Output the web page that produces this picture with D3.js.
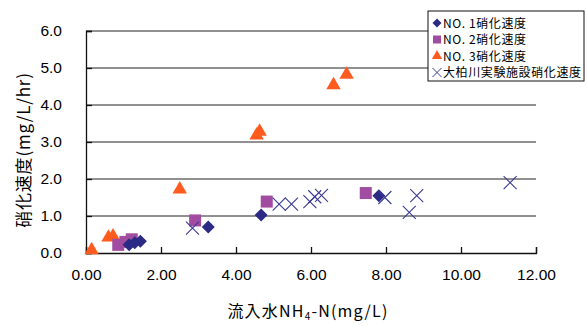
<!DOCTYPE html>
<head>
  <meta charset="utf-8">
  <title>硝化速度</title>
  <style>
    body { margin: 0; background: #fff; }
    text { font-family: "Liberation Sans", Arial, sans-serif; fill: #000; }
    .jp { font-family: "Noto Sans CJK JP", sans-serif; }
  </style>
</head>
<body>
  <script src="https://cdn.jsdelivr.net/npm/d3@7/dist/d3.min.js"></script>
  <script>
    // data: [流入水NH4-N, 硝化速度]
    var no1 = [[1.15, 0.22], [1.3, 0.28], [1.45, 0.32], [3.26, 0.7], [4.67, 1.03], [7.81, 1.55]];
    var no2 = [[0.86, 0.22], [1.05, 0.3], [1.22, 0.37], [2.91, 0.88], [4.82, 1.39], [7.46, 1.62]];
    var no3 = [[0.15, 0.08], [0.6, 0.42], [0.72, 0.45], [2.5, 1.72], [4.55, 3.18], [4.63, 3.28], [6.6, 4.54], [6.95, 4.82]];
    var ogashiwa = [[2.84, 0.67], [5.15, 1.32], [5.48, 1.32], [5.97, 1.39], [6.1, 1.52], [6.28, 1.56],
                    [7.97, 1.5], [8.62, 1.1], [8.82, 1.55], [11.31, 1.9]];
    var xTicks = [0, 2, 4, 6, 8, 10, 12];
    var yTicks = [0, 1, 2, 3, 4, 5, 6];
    var legendLabels = ["NO. 1硝化速度", "NO. 2硝化速度", "NO. 3硝化速度", "大柏川実験施設硝化速度"];

    var margin = {top: 31, left: 86},
        width = 450,
        height = 222;

    var svg = d3.select("body").append("svg")
        .attr("width", 587)
        .attr("height", 326);
    var g = svg.append("g")
        .attr("transform", "translate(" + margin.left + "," + margin.top + ")");

    var xScale = d3.scaleLinear().domain([0, 12]).range([0, width]);
    var yScale = d3.scaleLinear().domain([0, 6]).range([height, 0]);

    // gridlines
    g.selectAll(".grid").data(yTicks.slice(1)).enter().append("line")
      .attr("x1", 0).attr("x2", width)
      .attr("y1", function(d) { return yScale(d); })
      .attr("y2", function(d) { return yScale(d); })
      .attr("stroke", "#222").attr("stroke-width", 1);

    // axes, ticks pointing inward
    var xAxis = d3.axisBottom(xScale).tickValues(xTicks).tickSize(-6).tickPadding(16)
        .tickFormat(d3.format(".2f"));
    var yAxis = d3.axisLeft(yScale).tickValues(yTicks).tickSize(-6).tickPadding(24)
        .tickFormat(d3.format(".1f"));

    var gx = g.append("g").attr("transform", "translate(0," + height + ")").call(xAxis);
    var gy = g.append("g").call(yAxis);
    [gx, gy].forEach(function(a) {
      a.select(".domain").attr("stroke", "#111").attr("stroke-width", 1.3);
      a.selectAll(".tick line").attr("stroke", "#111").attr("stroke-width", 1.3);
      a.selectAll(".tick text").style("font-size", "15.5px").attr("fill", "#000");
    });

    // markers
    var navy = "#2b2a85", purple = "#a14ca0", orange = "#ff5b1e", xcol = "#3a3a95";

    g.selectAll(".no3").data(no3).enter().append("path")
      .attr("d", d3.symbol(d3.symbolTriangle, 90))
      .attr("transform", function(d) { return "translate(" + xScale(d[0]) + "," + yScale(d[1]) + ")"; })
      .attr("fill", orange);

    g.selectAll(".no2").data(no2).enter().append("rect")
      .attr("x", function(d) { return xScale(d[0]) - 6; })
      .attr("y", function(d) { return yScale(d[1]) - 6; })
      .attr("width", 12).attr("height", 12)
      .attr("fill", purple);

    g.selectAll(".no1").data(no1).enter().append("path")
      .attr("d", "M0,-6.5L6.5,0L0,6.5L-6.5,0Z")
      .attr("transform", function(d) { return "translate(" + xScale(d[0]) + "," + yScale(d[1]) + ")"; })
      .attr("fill", navy);

    g.selectAll(".oga").data(ogashiwa).enter().append("path")
      .attr("d", "M-6.5,-6.5L6.5,6.5M6.5,-6.5L-6.5,6.5")
      .attr("transform", function(d) { return "translate(" + xScale(d[0]) + "," + yScale(d[1]) + ")"; })
      .attr("stroke", xcol).attr("stroke-width", 1.1).attr("fill", "none");

    // axis titles
    svg.append("text").attr("class", "jp")
      .attr("transform", "translate(30,150) rotate(-90)")
      .attr("text-anchor", "middle")
      .style("font-size", "17px").style("letter-spacing", "0.8px")
      .text("硝化速度(mg/L/hr)");

    var xt = svg.append("text").attr("class", "jp")
      .attr("x", 308).attr("y", 317)
      .attr("text-anchor", "middle")
      .style("font-size", "16px").style("letter-spacing", "1.2px");
    xt.append("tspan").text("流入水NH");
    xt.append("tspan").attr("dy", 3).style("font-size", "10px").text("4");
    xt.append("tspan").attr("dy", -3).text("-N(mg/L)");

    // legend
    var lg = svg.append("g").attr("transform", "translate(428,11)");
    lg.append("rect").attr("width", 156).attr("height", 70)
      .attr("fill", "#fff").attr("stroke", "#111").attr("stroke-width", 1);
    var rows = lg.selectAll(".row").data(legendLabels).enter().append("g")
      .attr("transform", function(d, i) { return "translate(0," + (12 + i * 16.5) + ")"; });
    rows.append("text").attr("class", "jp")
      .attr("x", 15).attr("y", 4.5)
      .style("font-size", "12px").style("letter-spacing", "0.6px")
      .text(function(d) { return d; });
    rows.each(function(d, i) {
      var r = d3.select(this);
      if (i === 0) r.append("path").attr("d", "M0,-4.5L4.5,0L0,4.5L-4.5,0Z").attr("transform", "translate(9,0)").attr("fill", navy);
      if (i === 1) r.append("rect").attr("x", 5).attr("y", -4).attr("width", 8).attr("height", 8).attr("fill", purple);
      if (i === 2) r.append("path").attr("d", d3.symbol(d3.symbolTriangle, 45)).attr("transform", "translate(9,0)").attr("fill", orange);
      if (i === 3) r.append("path").attr("d", "M-4.5,-4.5L4.5,4.5M4.5,-4.5L-4.5,4.5").attr("transform", "translate(9,0)").attr("stroke", xcol).attr("fill", "none");
    });
  </script>
</body>
